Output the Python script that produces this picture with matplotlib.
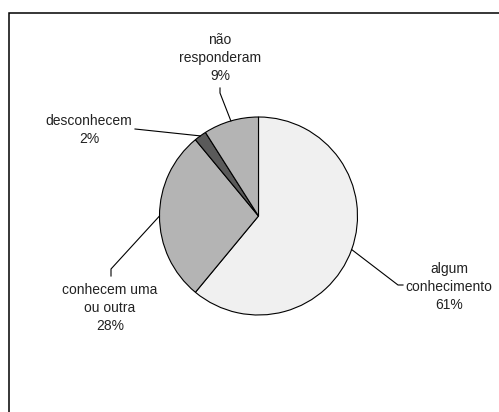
import numpy as np
import matplotlib
matplotlib.use("Agg")
import matplotlib.pyplot as plt
from matplotlib.patches import Rectangle

# Pie chart of survey answers (values in percent)
labels = ["algum\nconhecimento", "conhecem uma\nou outra", "desconhecem", "não\nresponderam"]
values = [61, 28, 2, 9]
colors = ["#f0f0f0", "#b4b4b4", "#5a5a5a", "#b4b4b4"]

# label centres and leader elbows, in pixel coords (y measured from the top)
label_pos = [(449, 286), (110, 307), (89, 129), (220, 57)]
leader_pts = [[(398, 285), (403, 285)],
              [(111, 269), (111, 276)],
              [(135, 129)],
              [(220, 93), (220, 88)]]

W, H = 499, 412
plt.rcParams['font.family'] = ['Liberation Sans', 'DejaVu Sans']

fig = plt.figure(figsize=(W / 100, H / 100), dpi=100)
ax = fig.add_axes([0, 0, 1, 1])

def py(y):
    return H - y

cx, cy, r = 258.5, py(216), 99
wedges, _ = ax.pie(values, colors=colors, startangle=90, counterclock=False,
                   center=(cx, cy), radius=r,
                   wedgeprops=dict(edgecolor="black", linewidth=0.8))

# leader lines start on the rim at each slice's mid angle
for w, lab, val, (lx, ly), pts in zip(wedges, labels, values, label_pos, leader_pts):
    mid = np.deg2rad((w.theta1 + w.theta2) / 2)
    xs = [cx + r * np.cos(mid)] + [p[0] for p in pts]
    ys = [cy + r * np.sin(mid)] + [py(p[1]) for p in pts]
    ax.plot(xs, ys, color="black", lw=0.8)
    ax.text(lx, py(ly) - 1, f"{lab}\n{val}%", ha="center", va="center",
            fontsize=10, color="#222222", linespacing=1.35)

# outer frame, cut off at the right and bottom
ax.add_patch(Rectangle((9.5, -20), 500, py(13) + 20, fill=False,
                       edgecolor="black", lw=1.1))

ax.set_xlim(0, W)
ax.set_ylim(0, H)
ax.set_aspect("equal")
ax.axis("off")

fig.savefig("out.png", dpi=100)
